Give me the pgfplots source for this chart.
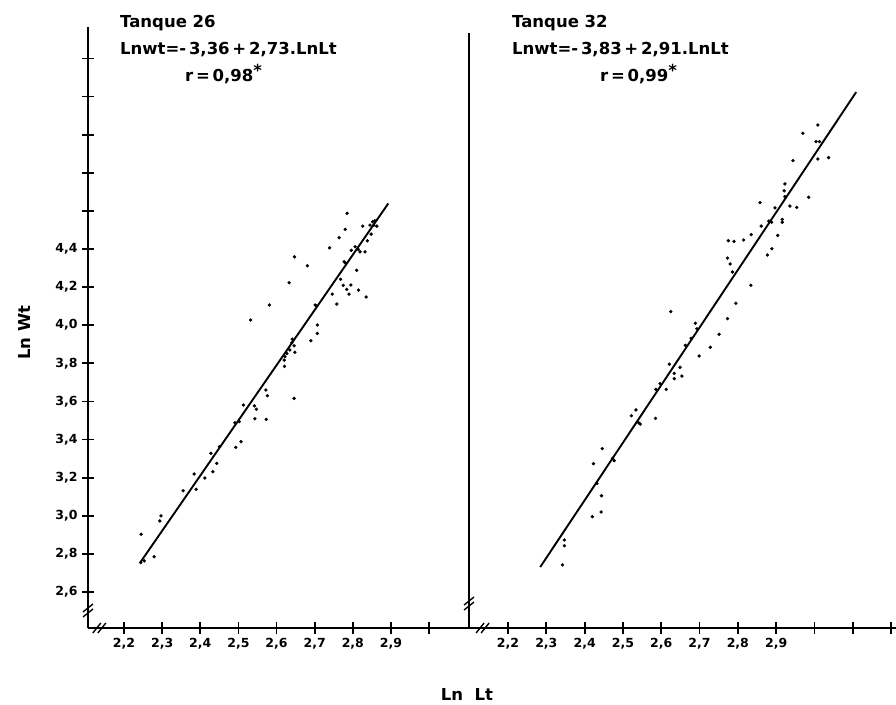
\documentclass[border=0pt]{standalone}
\usepackage{fontspec}
\setmainfont{DejaVu Sans}
\usepackage{pgfplots}
\usepackage{pgfplotstable}
\pgfplotsset{compat=1.18}

% Tanque 26 (Ln Lt, Ln Wt)
\pgfplotstableread{
x y
2.785 4.587
2.780 4.503
2.826 4.520
2.845 4.525
2.855 4.525
2.863 4.520
2.852 4.543
2.858 4.548
2.848 4.478
2.838 4.443
2.764 4.459
2.739 4.406
2.796 4.393
2.806 4.412
2.814 4.398
2.819 4.385
2.832 4.385
2.647 4.359
2.681 4.312
2.777 4.333
2.781 4.325
2.810 4.288
2.633 4.223
2.768 4.241
2.775 4.209
2.784 4.188
2.795 4.211
2.790 4.163
2.815 4.184
2.835 4.148
2.746 4.163
2.758 4.111
2.581 4.106
2.701 4.106
2.705 4.101
2.532 4.027
2.707 4.001
2.707 3.957
2.690 3.918
2.641 3.927
2.640 3.908
2.646 3.892
2.635 3.870
2.648 3.858
2.627 3.852
2.622 3.835
2.620 3.817
2.621 3.784
2.572 3.660
2.576 3.630
2.646 3.616
2.513 3.581
2.542 3.577
2.547 3.559
2.543 3.509
2.573 3.506
2.491 3.488
2.502 3.494
2.507 3.389
2.493 3.359
2.450 3.362
2.428 3.328
2.443 3.275
2.433 3.231
2.412 3.198
2.384 3.219
2.389 3.139
2.355 3.131
2.297 2.999
2.294 2.973
2.245 2.903
2.279 2.785
2.244 2.754
2.253 2.763
}\tanqueA

% Tanque 32
\pgfplotstableread{
x y
3.009 5.050
2.970 5.007
3.004 4.963
3.013 4.963
3.009 4.872
3.037 4.879
2.944 4.863
2.923 4.741
2.921 4.705
2.923 4.674
2.985 4.671
2.858 4.643
2.897 4.615
2.936 4.625
2.954 4.618
2.881 4.546
2.888 4.540
2.916 4.555
2.916 4.540
2.861 4.520
2.835 4.475
2.904 4.471
2.775 4.443
2.790 4.440
2.815 4.447
2.889 4.401
2.877 4.368
2.773 4.352
2.780 4.321
2.786 4.279
2.834 4.209
2.795 4.115
2.773 4.034
2.751 3.952
2.625 4.071
2.689 4.010
2.693 3.981
2.678 3.931
2.663 3.894
2.728 3.884
2.699 3.838
2.621 3.795
2.649 3.779
2.634 3.747
2.654 3.733
2.634 3.719
2.586 3.663
2.597 3.693
2.613 3.663
2.522 3.525
2.534 3.555
2.541 3.488
2.545 3.481
2.585 3.511
2.446 3.352
2.423 3.273
2.473 3.301
2.477 3.289
2.432 3.170
2.444 3.105
2.420 2.995
2.443 3.020
2.347 2.873
2.347 2.843
2.342 2.742
}\tanqueB

\begin{document}
\begin{tikzpicture}
\path[use as bounding box] (0,0) rectangle (896pt,704pt);
\pgfplotsset{
  panel/.style={
    scale only axis,
    anchor=south west,
    axis x line=bottom, axis y line=left,
    axis line style={-, line width=2.4pt},
    tick style={line width=1.8pt, black},
    tick align=center, major tick length=12pt,
    ymin=2.411,
    tick label style={font=\bfseries\fontsize{12.5}{14}\selectfont},
    /pgf/number format/fixed,
    /pgf/number format/fixed zerofill,
    /pgf/number format/precision=1,
    /pgf/number format/use comma,
    /pgf/number format/assume math mode=true,
    xticklabel={\ifdim\tick pt>2.95pt\else\pgfmathprintnumber{\tick}\fi},
    xticklabel style={yshift=-1pt},
    clip=false,
  },
  pts/.style={only marks, mark=*, mark size=1.5pt, black},
  fit/.style={black, line width=1.9pt},
}
\tikzset{brk/.style={line width=1.4pt}}

\begin{axis}[panel,
  at={(88pt,76pt)}, width=381pt, height=601pt,
  xmin=2.1056, xmax=3.1046, ymax=5.565,
  xtick={2.2,2.3,2.4,2.5,2.6,2.7,2.8,2.9,3.0},
  ytick={2.6,2.8,3.0,3.2,3.4,3.6,3.8,4.0,4.2,4.4,4.6,4.8,5.0,5.2,5.4},
  yticklabel={\ifdim\tick pt>4.5pt\else\pgfmathprintnumber{\tick}\fi},
  yticklabel style={xshift=-1pt},
  ylabel={Ln Wt},
  ylabel style={at={(axis description cs:-0.168,0.491)}, anchor=center,
    font=\bfseries\fontsize{16.5}{18}\selectfont},
]
  \addplot[pts] table[x=x, y=y] {\tanqueA};
  \addplot[fit] coordinates {(2.242,2.753) (2.893,4.639)};
  % axis breaks
  \draw[brk] ([shift={(-5pt,-7pt)}]rel axis cs:0,0.030) -- ++(10pt,8pt);
  \draw[brk] ([shift={(-5pt,-2pt)}]rel axis cs:0,0.030) -- ++(10pt,8pt);
  \draw[brk] ([shift={(-7pt,-5pt)}]rel axis cs:0.031,0) -- ++(8pt,10pt);
  \draw[brk] ([shift={(-2pt,-5pt)}]rel axis cs:0.031,0) -- ++(8pt,10pt);
\end{axis}

\begin{axis}[panel,
  at={(469pt,76pt)}, width=427pt, height=595pt,
  xmin=2.098, xmax=3.213, ymax=5.533,
  xtick={2.2,2.3,2.4,2.5,2.6,2.7,2.8,2.9,3.0,3.1,3.2},
  ytick=\empty,
]
  \addplot[pts] table[x=x, y=y] {\tanqueB};
  \addplot[fit] coordinates {(2.284,2.731) (3.109,5.223)};
  \draw[brk] ([shift={(-5pt,-7pt)}]rel axis cs:0,0.042) -- ++(10pt,8pt);
  \draw[brk] ([shift={(-5pt,-2pt)}]rel axis cs:0,0.042) -- ++(10pt,8pt);
  \draw[brk] ([shift={(-7pt,-5pt)}]rel axis cs:0.033,0) -- ++(8pt,10pt);
  \draw[brk] ([shift={(-2pt,-5pt)}]rel axis cs:0.033,0) -- ++(8pt,10pt);
\end{axis}

\begin{scope}[font=\bfseries\fontsize{16.5}{18}\selectfont]
  \node[anchor=base west, inner sep=0pt] at (120pt,676pt) {Tanque 26};
  \node[anchor=base west, inner sep=0pt] at (120pt,649pt) {Lnwt=-\,3,36\,+\,2,73.LnLt};
  \node[anchor=base west, inner sep=0pt] at (185pt,622pt) {r\,=\,0,98\raisebox{5pt}{*}};
  \node[anchor=base west, inner sep=0pt] at (512pt,676pt) {Tanque 32};
  \node[anchor=base west, inner sep=0pt] at (512pt,649pt) {Lnwt=-\,3,83\,+\,2,91.LnLt};
  \node[anchor=base west, inner sep=0pt] at (600pt,622pt) {r\,=\,0,99\raisebox{5pt}{*}};
  \node[anchor=base, inner sep=0pt] at (467pt,4pt) {Ln\ \ Lt};
\end{scope}
\end{tikzpicture}
\end{document}
